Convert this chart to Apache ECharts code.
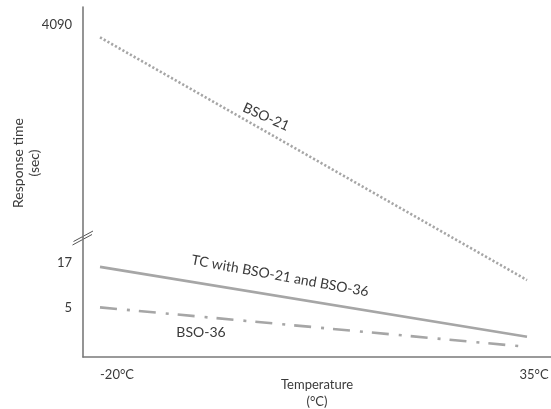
<!DOCTYPE html>
<html>
<head>
<meta charset="utf-8">
<script src="https://cdn.jsdelivr.net/npm/echarts@6/dist/echarts.min.js"></script>
<style>
html,body{margin:0;padding:0;background:#fff;}
#c{width:551px;height:409px;}
</style>
</head>
<body>
<div id="c"></div>
<script>
// ---- data ----
const temps = [-20, 35];                 // °C
const bso21 = [4090, 13.1];              // sec
const tcCombined = [17, -3.7];           // sec
const bso36 = [5, -6.7];                 // sec
const yTickValues = [5, 17, 4090];
const xTickValues = [-20, 35];
const xTickLabels = ['-20°C', '35°C'];
const seriesNames = ['BSO-21', 'TC with BSO-21 and BSO-36', 'BSO-36'];

const FONT = 'Lato';
const TXT = '#3a3a3a';
const LINE = '#a6a6a6';
const AXIS = '#7a7a7a';

const pairs = arr => temps.map((t, i) => [t, arr[i]]);

const chart = echarts.init(document.getElementById('c'), null, {renderer: 'canvas'});
chart.setOption({
  animation: false,
  backgroundColor: '#fff',
  grid: {left: 83, right: 0, top: 7, bottom: 52, containLabel: false, outerBoundsMode: 'none'},
  xAxis: {
    type: 'value', min: -22.19, max: 38.09,
    axisLine: {show: true, onZero: false, lineStyle: {color: AXIS, width: 1.6}},
    axisTick: {show: false},
    splitLine: {show: false},
    axisLabel: {
      customValues: xTickValues,
      margin: 11,
      color: TXT, fontFamily: FONT, fontSize: 13,
      formatter: v => v === xTickValues[0] ? '{a|' + xTickLabels[0] + '}' : '{b|' + xTickLabels[1] + '}',
      rich: {
        a: {padding: [0, 0, 0, 34], color: TXT, fontFamily: FONT, fontSize: 13},
        b: {padding: [0, 0, 0, 14], color: TXT, fontFamily: FONT, fontSize: 13}
      }
    },
    name: 'Temperature\n(°C)',
    nameLocation: 'middle',
    nameMoveOverlap: false,
    nameGap: 19,
    nameTextStyle: {color: TXT, fontFamily: FONT, fontSize: 13, lineHeight: 17, verticalAlign: 'top'}
  },
  yAxis: {
    type: 'value', min: -9.7, max: 4099,
    breaks: [{start: 26, end: 4031, gap: 0.01}],
    breakArea: {show: false},
    axisLine: {show: true, onZero: false, lineStyle: {color: AXIS, width: 1.6}},
    axisTick: {show: false},
    splitLine: {show: false},
    axisLabel: {
      customValues: yTickValues,
      margin: 11,
      color: TXT, fontFamily: FONT, fontSize: 13,
      formatter: v => v === 4090 ? '{h|4090}' : (v === 17 ? '{m|17}' : '{n|' + v + '}'),
      rich: {
        h: {padding: [0, 0, 26, 0], color: TXT, fontFamily: FONT, fontSize: 13},
        m: {padding: [0, 0, 8, 0], color: TXT, fontFamily: FONT, fontSize: 13},
        n: {padding: [0, 0, 0, 0], color: TXT, fontFamily: FONT, fontSize: 13}
      }
    },
    name: 'Response time\n(sec)',
    nameLocation: 'middle',
    nameMoveOverlap: false,
    nameRotate: 90,
    nameGap: 57,
    nameTextStyle: {color: TXT, fontFamily: FONT, fontSize: 14, lineHeight: 16, verticalAlign: 'middle', padding: [0, 0, 0, 38]}
  },
  series: [
    {
      name: seriesNames[0], type: 'line', data: pairs(bso21), symbol: 'none',
      lineStyle: {color: LINE, width: 2.6, type: [2.2, 2.1], cap: 'butt'}
    },
    {
      name: seriesNames[1], type: 'line', data: pairs(tcCombined), symbol: 'none',
      lineStyle: {color: LINE, width: 2.6, type: 'solid'}
    },
    {
      name: seriesNames[2], type: 'line', data: pairs(bso36), symbol: 'none',
      lineStyle: {color: LINE, width: 2.6, type: [17, 10, 3, 9], cap: 'butt'}
    }
  ],
  graphic: [
    {type: 'line', shape: {x1: 72.5, y1: 245, x2: 92, y2: 234.5}, style: {stroke: '#555', lineWidth: 1}, silent: true},
    {type: 'line', shape: {x1: 73.5, y1: 241.5, x2: 93, y2: 231}, style: {stroke: '#555', lineWidth: 1}, silent: true},
    {type: 'text', x: 266, y: 117, rotation: -24 * Math.PI / 180,
     style: {text: seriesNames[0], fill: TXT, font: '14px ' + FONT, align: 'center', verticalAlign: 'middle'}},
    {type: 'text', x: 280, y: 276, rotation: -10.3 * Math.PI / 180,
     style: {text: seriesNames[1], fill: TXT, font: '14px ' + FONT, align: 'center', verticalAlign: 'middle'}},
    {type: 'text', x: 201, y: 332,
     style: {text: seriesNames[2], fill: TXT, font: '14px ' + FONT, align: 'center', verticalAlign: 'middle'}}
  ]
});
</script>
</body>
</html>
